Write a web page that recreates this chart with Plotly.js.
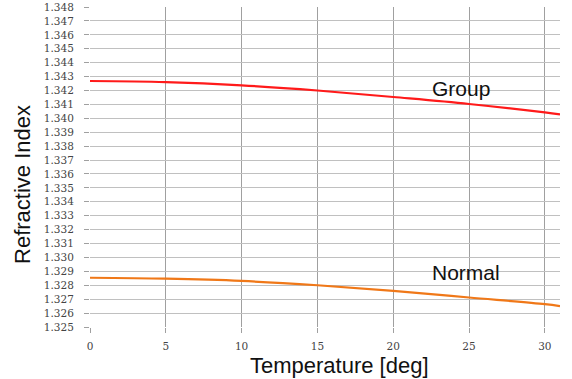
<!DOCTYPE html>
<html><head><meta charset="utf-8">
<script src="https://cdn.plot.ly/plotly-3.0.1.min.js"></script>
<style>html,body{margin:0;padding:0;background:#fff;}#c{width:572px;height:379px;}</style>
</head><body><div id="c"></div>
<script>
const temps = [0, 5, 10, 15, 20, 25, 30, 31];
const groupIdx = [1.34268, 1.34260, 1.34237, 1.34200, 1.34153, 1.34103, 1.34042, 1.34028];
const normalIdx = [1.32854, 1.32847, 1.32831, 1.32800, 1.32760, 1.32712, 1.32664, 1.32650];
const yTicks = [];
for (let i = 0; i <= 23; i++) yTicks.push(+(1.325 + i*0.001).toFixed(3));
const yTickText = yTicks.map(v => v.toFixed(3));
const xTicks = [0, 5, 10, 15, 20, 25, 30];

const traces = [
  {x: temps, y: groupIdx, mode: 'lines', line: {color: '#ff1a1a', width: 2.2, shape: 'spline'}, name: 'Group'},
  {x: temps, y: normalIdx, mode: 'lines', line: {color: '#f07818', width: 2.2, shape: 'spline'}, name: 'Normal'}
];
const titleFont = {family: 'Liberation Sans', size: 22, color: '#111'};
const layout = {
  width: 572, height: 379,
  margin: {l: 90, r: 12, t: 7, b: 52},
  showlegend: false,
  paper_bgcolor: '#fff', plot_bgcolor: '#fff',
  xaxis: {
    range: [0, 31], tickvals: xTicks,
    showgrid: true, gridcolor: '#a0a0a0', gridwidth: 1,
    zeroline: false, showline: false,
    ticks: 'outside', ticklen: 5, tickcolor: '#a0a0a0',
    ticklabelstandoff: 4,
    tickfont: {family: 'DejaVu Serif', size: 10.5, color: '#444'}
  },
  yaxis: {
    range: [1.325, 1.348], tickvals: yTicks, ticktext: yTickText,
    showgrid: true, gridcolor: '#c0c0c0', gridwidth: 1,
    zeroline: false, showline: false,
    ticks: 'outside', ticklen: 5, tickcolor: '#a0a0a0',
    ticklabelstandoff: 8,
    tickfont: {family: 'DejaVu Serif', size: 10.5, color: '#444'}
  },
  annotations: [
    {xref: 'paper', yref: 'paper', x: 0.531, y: -0.119, text: 'Temperature [deg]', showarrow: false,
     xanchor: 'center', yanchor: 'middle', font: titleFont},
    {xref: 'paper', yref: 'paper', x: -0.1426, y: 0.447, text: 'Refractive Index', showarrow: false,
     textangle: -90, xanchor: 'center', yanchor: 'middle', font: titleFont},
    {x: 24.5, y: 1.3412, xref: 'x', yref: 'y', text: 'Group', showarrow: false, yanchor: 'bottom',
     font: {family: 'Liberation Sans', size: 21, color: '#111'}},
    {x: 24.8, y: 1.32798, xref: 'x', yref: 'y', text: 'Normal', showarrow: false, yanchor: 'bottom',
     font: {family: 'Liberation Sans', size: 21, color: '#111'}}
  ]
};
Plotly.newPlot('c', traces, layout, {displayModeBar: false, staticPlot: true});
</script></body></html>
